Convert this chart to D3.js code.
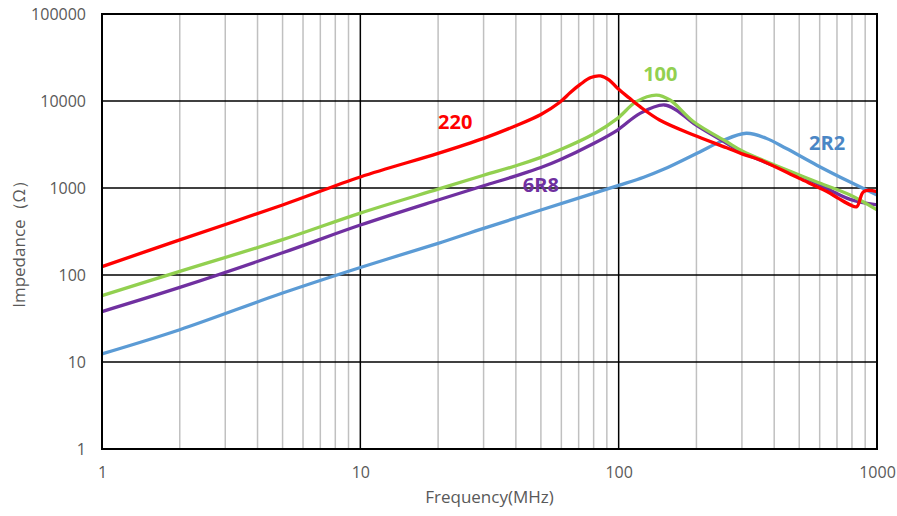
<!DOCTYPE html>
<html><head><meta charset="utf-8">
<script src="https://cdn.jsdelivr.net/npm/d3@7"></script>
<style>body{margin:0;background:#fff;} svg{display:block;font-family:"Open Sans","Noto Sans",sans-serif;}</style>
</head><body>
<script>
const xTicks = [1, 10, 100, 1000];
const yTicks = [1, 10, 100, 1000, 10000, 100000];

const freq220 = [1,2,5,10,20,30,40,50,59,65,71,78,85,92,99,110,121,144,195,262,302,353,500,640,709,787,835,888,1000];
const z220    = [125,253,638,1340,2500,3720,5200,7000,9600,12500,15500,18600,19400,17400,14000,10800,8600,6050,4065,2900,2450,2100,1290,910,760,640,610,910,910];

const freq100 = [1,2,5,10,20,30,40,50,59,80,99,117,140,158,195,262,302,500,585,787,1000];
const z100    = [58,110,255,515,970,1400,1800,2250,2730,4180,6320,9820,11700,10260,5780,3400,2650,1410,1170,830,560];

const freq6R8 = [1,2,5,10,20,30,40,50,59,80,99,121,150,167,195,262,302,500,585,787,1000];
const z6R8    = [38,72,180,375,728,1060,1380,1720,2100,3250,4640,7210,9000,7880,5540,3265,2550,1380,1130,740,640];

const freq2R2 = [1,2,5,10,20,30,50,100,125,150,206,250,312,372,446,585,787,1000];
const z2R2    = [12.4,23.5,62,122,231,344,558,1070,1330,1650,2600,3450,4260,3735,2840,1830,1170,830];

const seriesNames = ["220","100","6R8","2R2"];
const labelFreq = [23.3,145,50,641];
const labelZ    = [5740,20700,1097,3335];

const W = 897, H = 516;
const m = {l:102, r:20, t:14, b:67};
const svg = d3.select("body").append("svg").attr("width", W).attr("height", H);
const x = d3.scaleLog().domain([1,1000]).range([m.l, W-m.r]);
const y = d3.scaleLog().domain([1,100000]).range([H-m.b, m.t]);

// minor grid
const minorX = [];
for (let d=1; d<1000; d*=10) for (let k=2;k<=9;k++) minorX.push(d*k);
svg.append("g").selectAll("line").data(minorX).join("line")
  .attr("x1", d=>x(d)).attr("x2", d=>x(d)).attr("y1", y(1)).attr("y2", y(100000))
  .attr("stroke", "#c0c0c0").attr("stroke-width", 1.5);
// major grid
svg.append("g").selectAll("line").data(xTicks).join("line")
  .attr("x1", d=>x(d)).attr("x2", d=>x(d)).attr("y1", y(1)).attr("y2", y(100000))
  .attr("stroke", "#000").attr("stroke-width", 1.5);
svg.append("g").selectAll("line").data(yTicks).join("line")
  .attr("x1", x(1)).attr("x2", x(1000)).attr("y1", d=>y(d)).attr("y2", d=>y(d))
  .attr("stroke", "#000").attr("stroke-width", 1.5);

// axes labels
const fmt = d3.format("d");
const xAxis = d3.axisBottom(x).tickValues(xTicks).tickFormat(fmt).tickSize(0).tickPadding(18);
const gx = svg.append("g").attr("transform", `translate(0,${y(1)})`).call(xAxis);
const yAxis = d3.axisLeft(y).tickValues(yTicks).tickFormat(fmt).tickSize(0).tickPadding(16);
const gy = svg.append("g").attr("transform", `translate(${x(1)},0)`).call(yAxis);
[gx, gy].forEach(g => {
  g.select(".domain").remove();
  g.selectAll("text").attr("fill", "#595959").attr("font-size", 16).attr("font-family", "'Open Sans','Noto Sans',sans-serif");
});

svg.append("text").attr("x", (x(1)+x(1000))/2).attr("y", 503).attr("text-anchor","middle")
  .attr("fill","#595959").attr("font-size",17).text("Frequency(MHz)");
svg.append("text").attr("transform", `translate(25,240) rotate(-90)`).attr("text-anchor","middle")
  .attr("fill","#595959").attr("font-size",17).text("Impedance（Ω）");

// lines
const colors = {"220":"#ff0000","100":"#92d050","6R8":"#7030a0","2R2":"#5b9bd5"};
const data = {
  "2R2": d3.zip(freq2R2, z2R2),
  "6R8": d3.zip(freq6R8, z6R8),
  "100": d3.zip(freq100, z100),
  "220": d3.zip(freq220, z220)
};
const line = d3.line().x(d=>x(d[0])).y(d=>y(d[1])).curve(d3.curveCatmullRom.alpha(0.5));
["2R2","6R8","100","220"].forEach(k => {
  svg.append("path").attr("d", line(data[k])).attr("fill","none")
    .attr("stroke", colors[k]).attr("stroke-width", 3.3).attr("stroke-linejoin","round");
});

// series labels
const labelColors = {"220":"#ff0000","100":"#92d050","6R8":"#7030a0","2R2":"#4a86c5"};
seriesNames.forEach((k,i) => {
  svg.append("text").attr("x", x(labelFreq[i])).attr("y", y(labelZ[i])).attr("dy","0.36em")
    .attr("text-anchor","middle").attr("fill", labelColors[k])
    .attr("font-weight","bold").attr("font-size",20).text(k);
});

// plot border
svg.append("rect").attr("x", x(1)).attr("y", y(100000)).attr("width", x(1000)-x(1)).attr("height", y(1)-y(100000))
  .attr("fill","none").attr("stroke","#000").attr("stroke-width",2);
</script>
</body></html>
